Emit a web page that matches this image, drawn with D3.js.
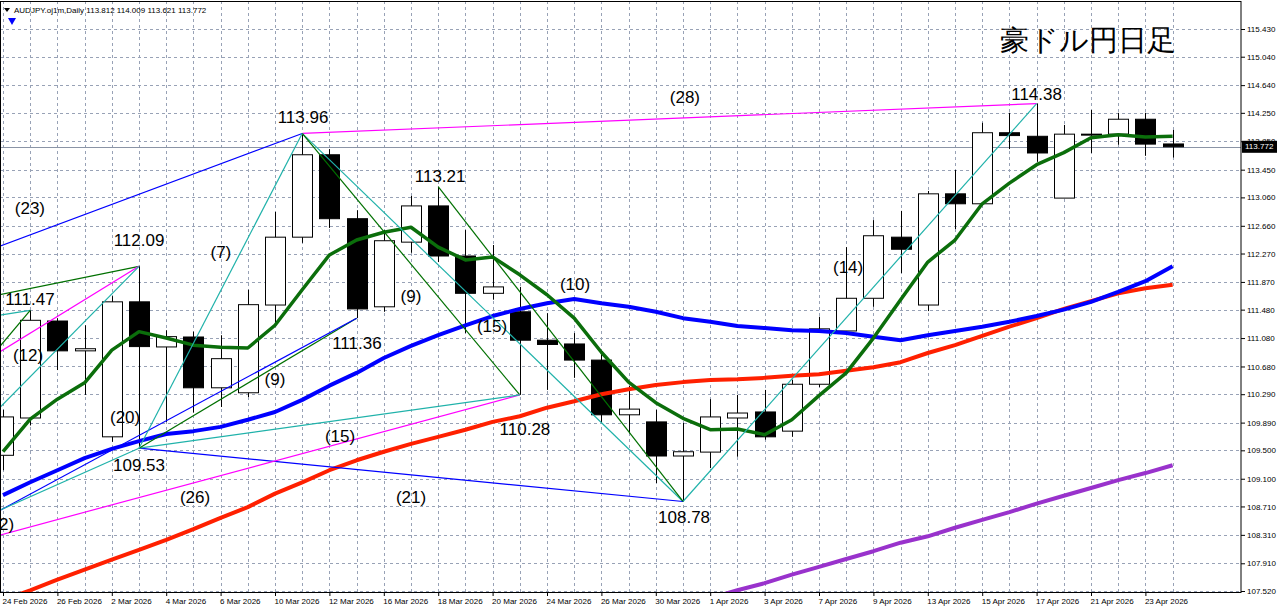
<!DOCTYPE html>
<html><head><meta charset="utf-8">
<script src="https://cdn.jsdelivr.net/npm/d3@7"></script>
<style>
html,body{margin:0;padding:0;background:#fff;}
svg{display:block;}
text{font-family:"Liberation Sans",Arial,sans-serif;}
</style></head>
<body><svg id="c" width="1280" height="611"></svg>
<script>
// ---------- data ----------
const dates = ["24 Feb 2026","25 Feb 2026","26 Feb 2026","27 Feb 2026","2 Mar 2026","3 Mar 2026","4 Mar 2026","5 Mar 2026","6 Mar 2026","9 Mar 2026","10 Mar 2026","11 Mar 2026","12 Mar 2026","13 Mar 2026","16 Mar 2026","17 Mar 2026","18 Mar 2026","19 Mar 2026","20 Mar 2026","23 Mar 2026","24 Mar 2026","25 Mar 2026","26 Mar 2026","27 Mar 2026","30 Mar 2026","31 Mar 2026","1 Apr 2026","2 Apr 2026","3 Apr 2026","6 Apr 2026","7 Apr 2026","8 Apr 2026","9 Apr 2026","10 Apr 2026","13 Apr 2026","14 Apr 2026","15 Apr 2026","16 Apr 2026","17 Apr 2026","20 Apr 2026","21 Apr 2026","22 Apr 2026","23 Apr 2026","24 Apr 2026"];
const open  = [109.43,109.955,111.32,110.90,109.69,111.59,110.955,111.095,110.38,110.31,111.545,112.50,113.66,112.76,111.52,112.43,112.94,112.235,111.71,111.45,111.05,110.997,110.77,110.00,109.90,109.42,109.475,109.955,110.04,109.77,110.43,111.18,111.64,112.50,111.545,113.11,112.97,113.97,113.92,113.05,113.94,113.95,114.16,113.812];
const high  = [110.07,111.47,111.36,111.26,111.67,112.09,111.19,111.17,111.12,111.76,112.855,113.96,113.74,112.88,112.60,113.08,113.21,112.60,112.39,111.80,111.43,111.15,110.88,110.405,110.07,109.885,110.22,110.28,110.35,110.49,111.38,112.36,112.74,112.87,113.15,113.445,114.11,114.25,114.38,114.08,114.29,114.25,114.25,114.009];
const low   = [109.22,109.85,110.63,110.28,109.62,109.53,109.90,110.03,110.11,110.25,111.29,112.42,112.63,111.36,111.45,112.28,112.15,111.15,111.62,110.28,110.35,110.52,109.885,109.74,109.04,108.78,109.25,109.41,109.65,109.69,110.39,111.12,111.52,111.995,111.46,112.615,112.95,113.74,113.56,113.05,113.685,113.80,113.645,113.621];
const close = [109.97,111.33,110.90,110.93,111.59,110.96,111.10,110.38,110.79,111.55,112.50,113.66,112.76,111.49,112.45,112.94,112.235,111.71,111.80,111.05,110.99,110.77,110.00,110.08,109.42,109.48,109.97,110.025,109.69,110.43,111.21,111.64,112.52,112.33,113.11,112.97,113.97,113.93,113.685,113.95,113.95,114.16,113.81,113.772];

const maGreen  = [109.48,109.94,110.22,110.45,110.91,111.17,111.08,110.98,110.95,110.94,111.26,111.76,112.25,112.46,112.57,112.64,112.36,112.18,112.22,111.97,111.69,111.36,110.88,110.46,110.17,109.95,109.79,109.80,109.72,109.93,110.27,110.59,111.08,111.62,112.15,112.46,112.97,113.26,113.52,113.69,113.90,113.94,113.91,113.92];
const maBlue   = [108.87,109.05,109.22,109.39,109.52,109.63,109.73,109.77,109.83,109.93,110.04,110.21,110.41,110.59,110.80,110.97,111.12,111.26,111.39,111.49,111.57,111.63,111.57,111.52,111.45,111.36,111.31,111.25,111.22,111.19,111.18,111.15,111.10,111.05,111.12,111.18,111.24,111.31,111.39,111.48,111.59,111.73,111.88,112.09];
const maRed    = [107.39,107.53,107.68,107.82,107.96,108.10,108.24,108.39,108.55,108.70,108.89,109.05,109.22,109.36,109.48,109.59,109.69,109.79,109.90,109.98,110.10,110.19,110.29,110.36,110.42,110.46,110.49,110.50,110.52,110.55,110.57,110.62,110.67,110.74,110.87,110.98,111.11,111.24,111.36,111.49,111.60,111.71,111.78,111.83];
const maPurple = [null,null,null,null,null,null,null,null,null,null,null,null,null,null,null,null,null,null,null,null,null,null,null,null,null,107.30,107.42,107.53,107.63,107.75,107.86,107.97,108.08,108.20,108.29,108.41,108.52,108.63,108.75,108.86,108.97,109.08,109.18,109.29];

const yTicks = [115.430,115.040,114.640,114.250,113.850,113.450,113.060,112.660,112.270,111.870,111.480,111.080,110.680,110.290,109.890,109.500,109.100,108.710,108.310,107.910,107.520];
const xTickIdx = [0,2,4,6,8,10,12,14,16,18,20,22,24,26,28,30,32,34,36,38,40,42];

// trend lines: [startIdx, startPrice, endIdx, endPrice, colour]
const tlStart = [[11,113.96],[-11,110.82],[11,113.96],[11,113.96],[25,108.78],[5,109.53],[-6,107.70],[5,109.53],[5,109.53],[-6,107.44],[5,109.53],[-8,111.08],[-6,109.50],[-2,109.37],[-5,111.10],[-1,110.56],[-10,106.97],[16,113.21]];
const tlEnd   = [[38,114.38],[11,113.96],[25,108.78],[19,110.28],[38,114.38],[25,108.78],[19,110.28],[19,110.28],[13,111.36],[13,111.36],[11,113.96],[5,112.09],[5,112.09],[5,112.09],[1,111.47],[1,111.47],[5,109.53],[25,108.78]];
const tlColor = ["#ff00ff","#0000ff","#20b2aa","#007000","#20b2aa","#0000ff","#ff00ff","#20b2aa","#007000","#0000ff","#20b2aa","#007000","#ff00ff","#20b2aa","#20b2aa","#007000","#20b2aa","#007000"];

// text labels: [text, idx, price]
const labelText  = ["113.96","114.38","113.21","112.09","111.47","111.36","110.28","109.53","108.78","(23)","(7)","(12)","(20)","(9)","(9)","(15)","(15)","(10)","(26)","(21)","(14)","(28)","(12)"];
const labelIdx   = [11.03,38.0,16.07,5.0,0.99,13.01,19.19,5.0,25.04,0.99,8.01,0.92,4.49,15.0,10.0,17.98,12.39,21.03,7.06,15.0,31.07,25.07,-0.15];
const labelPrice = [114.19,114.515,113.36,112.46,111.62,111.01,109.79,109.28,108.56,112.91,112.29,110.83,109.955,111.67,110.49,111.24,109.70,111.83,108.83,108.84,112.07,114.47,108.46];

const title = "豪ドル円日足";
const header = "AUDJPY.oj1m,Daily  113.812 114.009 113.621 113.772";
const lastPrice = 113.772;

// ---------- layout ----------
const W = 1280, H = 611;
const plotR = 1241, plotT = 1, plotB = 592;
const svg = d3.select("#c");
const x = d3.scaleLinear().domain([0, 43]).range([3, 3 + 27.2 * 43]);
const y = d3.scaleLinear().domain([107.52, 115.43]).range([591, 29]);

svg.append("defs").append("clipPath").attr("id","clip")
  .append("rect").attr("x",0).attr("y",plotT).attr("width",plotR).attr("height",plotB-plotT);

const grid = svg.append("g").attr("stroke","#98a2b6").attr("stroke-dasharray","3,3").attr("stroke-width",1);
grid.selectAll(".vg").data(d3.range(0, 44)).join("line")
  .attr("x1", d => Math.round(x(d)) + 0.5).attr("x2", d => Math.round(x(d)) + 0.5)
  .attr("y1", plotT).attr("y2", plotB);
grid.selectAll(".hg").data(yTicks).join("line")
  .attr("x1", 0).attr("x2", plotR)
  .attr("y1", d => Math.round(y(d)) + 0.5).attr("y2", d => Math.round(y(d)) + 0.5);

const plot = svg.append("g").attr("clip-path","url(#clip)");

// price line
plot.append("line").attr("x1",0).attr("x2",plotR)
  .attr("y1", Math.round(y(lastPrice))+0.5).attr("y2", Math.round(y(lastPrice))+0.5)
  .attr("stroke","#8a94a6").attr("stroke-width",1);

// candles
const bw = 20;
const cg = plot.append("g");
d3.range(0, 44).forEach(i => {
  const cx = Math.round(x(i)) + 0.5;
  cg.append("line").attr("x1",cx).attr("x2",cx).attr("y1",y(high[i])).attr("y2",y(low[i]))
    .attr("stroke","#000").attr("stroke-width",1);
  const top = y(Math.max(open[i], close[i])), bot = y(Math.min(open[i], close[i]));
  const bull = close[i] >= open[i];
  cg.append("rect").attr("x", cx - bw/2).attr("y", top).attr("width", bw).attr("height", Math.max(1, bot - top))
    .attr("fill", bull ? "#fff" : "#000").attr("stroke","#000").attr("stroke-width",1);
});

// moving averages
const mas = [[maPurple,"#9932cc",4],[maRed,"#ff2000",4],[maBlue,"#0000ff",4],[maGreen,"#0b6e0b",3.5]];
mas.forEach(([arr, col, w]) => {
  const ln = d3.line().defined(d => d != null).x((d,i) => x(i)).y(d => y(d));
  plot.append("path").datum(arr).attr("d", ln).attr("fill","none")
    .attr("stroke", col).attr("stroke-width", w).attr("stroke-linejoin","round");
});

// trend lines
tlStart.forEach((s, k) => {
  const e = tlEnd[k];
  plot.append("line").attr("x1", x(s[0])).attr("y1", y(s[1])).attr("x2", x(e[0])).attr("y2", y(e[1]))
    .attr("stroke", tlColor[k]).attr("stroke-width", 1.2);
});

// labels
labelText.forEach((t, k) => {
  plot.append("text").attr("x", x(labelIdx[k])).attr("y", y(labelPrice[k]))
    .attr("text-anchor","middle").attr("dominant-baseline","central")
    .attr("font-size", 17).attr("fill","#000").text(t);
});

// frame
svg.append("rect").attr("x",0.5).attr("y",plotT+0.5).attr("width",plotR-0.5).attr("height",plotB-plotT)
  .attr("fill","none").attr("stroke","#000").attr("stroke-width",1);

// y axis
const ya = svg.append("g").attr("transform",`translate(${plotR},0)`)
  .call(d3.axisRight(y).tickValues(yTicks).tickSize(4).tickPadding(2).tickFormat(d3.format(".3f")));
ya.select(".domain").remove();
ya.selectAll("text").attr("font-size",8).attr("font-family","'DejaVu Sans',sans-serif").attr("fill","#000");
ya.selectAll("line").attr("stroke","#000");

// x axis
const xa = svg.append("g").attr("transform",`translate(0,${plotB})`)
  .call(d3.axisBottom(x).tickValues(xTickIdx).tickSize(4).tickPadding(2).tickFormat(i => dates[i]));
xa.select(".domain").remove();
xa.selectAll("text").attr("font-size",8).attr("font-family","'DejaVu Sans',sans-serif")
  .attr("text-anchor","start").attr("dx", -1).attr("fill","#000");
xa.selectAll("line").attr("stroke","#000");

// current price tag
const py = y(lastPrice);
svg.append("rect").attr("x", plotR + 1).attr("y", py - 6).attr("width", 35).attr("height", 12).attr("fill","#000");
svg.append("text").attr("x", plotR + 4).attr("y", py).attr("dominant-baseline","central")
  .attr("font-size",8).attr("font-family","'DejaVu Sans',sans-serif").attr("fill","#fff").text(lastPrice.toFixed(3));

// header
svg.append("path").attr("d","M4,8 L10,8 L7,12 Z").attr("fill","#000");
svg.append("text").attr("x",14).attr("y",10).attr("dominant-baseline","central")
  .attr("font-size",8).attr("font-family","'DejaVu Sans',sans-serif").attr("fill","#000").text(header);
svg.append("path").attr("d","M8,18 L16,18 L12,25 Z").attr("fill","#0000ff");

// title
svg.append("text").attr("x",1088).attr("y",40).attr("text-anchor","middle").attr("dominant-baseline","central")
  .attr("font-size",29).attr("font-family","'Noto Sans CJK JP',sans-serif").attr("fill","#000").text(title);
</script></body></html>
